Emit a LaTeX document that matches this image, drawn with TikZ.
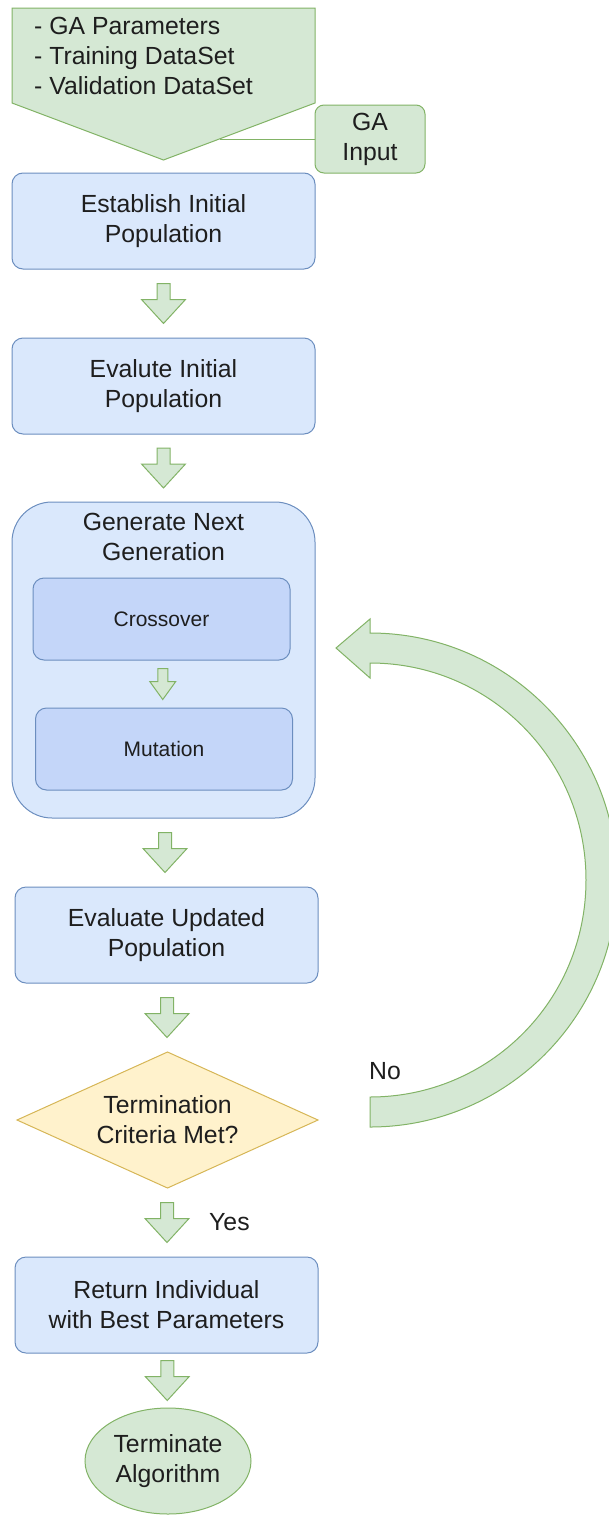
\documentclass[tikz,border=0pt]{standalone}
\usepackage{fontspec}
\setmainfont{Liberation Sans}
\usetikzlibrary{positioning,calc,shapes.geometric}
\definecolor{grfill}{HTML}{D5E8D4}
\definecolor{grline}{HTML}{82B366}
\definecolor{blfill}{HTML}{DAE8FC}
\definecolor{blline}{HTML}{6C8EBF}
\definecolor{bldeep}{HTML}{C4D6F9}
\definecolor{ylfill}{HTML}{FFF2CC}
\definecolor{ylline}{HTML}{D6B656}
\definecolor{ink}{HTML}{1E1E1E}

\begin{document}
\begin{tikzpicture}[x=1pt, y=-1pt,
   font=\fontsize{24.8}{30}\selectfont, text=ink, node distance=69pt,
   stepbox/.style={draw=blline, fill=blfill, line width=1pt, rounded corners=11pt, align=center, inner sep=0pt, outer sep=0pt, minimum width=303pt, minimum height=96pt},
   subbox/.style={stepbox, fill=bldeep, minimum width=257pt, minimum height=82pt, font=\fontsize{21}{25}\selectfont},
   decision/.style={diamond, shape aspect=2.2, draw=ylline, fill=ylfill, line width=1pt, align=center, inner sep=0pt, outer sep=0pt, minimum width=301pt, minimum height=136pt},
   endnode/.style={ellipse, draw=grline, fill=grfill, line width=1pt, align=center, inner sep=0pt, outer sep=0pt, minimum width=166pt, minimum height=106pt},
   inbox/.style={draw=grline, fill=grfill, line width=1pt, rounded corners=9pt, align=center, inner sep=0pt, outer sep=0pt, minimum width=110pt, minimum height=68pt},
   grshape/.style={draw=grline, fill=grfill, line width=1pt},
   bigarr/.pic={\draw[grshape] (-6.5,-20) -- (6.5,-20) -- (6.5,-4) -- (22,-4) -- (0,20) -- (-22,-4) -- (-6.5,-4) -- cycle;},
   tinyarr/.pic={\draw[grshape] (-5,-15.5) -- (5,-15.5) -- (5,-2.5) -- (13,-2.5) -- (0,15.5) -- (-13,-2.5) -- (-5,-2.5) -- cycle;}]
   \useasboundingbox (0,0) rectangle (608,1515);

   % inputs
   \draw[grshape] (12,8) -- (315,8) -- (315,103) coordinate (inR) -- (163.5,160) coordinate (inTip) -- (12,103) -- cycle;
   \node[align=left, anchor=north west, inner sep=0pt] (inputs) at (34,17) {- GA Parameters\\- Training DataSet\\- Validation DataSet};
   \node[inbox] (gain) at (370,139) {GA\\Input};
   \coordinate (tap) at ($(inR)!0.63!(inTip)$);
   \draw[grline, line width=1pt] (gain.west) -- (gain.west -| tap);

   % main flow
   \node[stepbox] (est) at (163.5,221) {Establish Initial\\Population};
   \node[stepbox, below=of est] (evi) {Evalute Initial\\Population};
   \node[stepbox, below=68pt of evi, minimum height=316pt, rounded corners=40pt] (gen) {};
   \node[align=center, inner sep=0pt, anchor=north] (gentitle) at ([yshift=-11pt]gen.north) {Generate Next\\Generation};
   \node[subbox, below=76pt of gen.north, xshift=-2pt] (cross) {Crossover};
   \node[subbox, below=48pt of cross, xshift=2.5pt] (mut) {Mutation};
   \node[stepbox, below=of gen, xshift=3pt] (evu) {Evaluate Updated\\Population};
   \node[decision, below=of evu, xshift=1pt] (crit) {Termination\\Criteria Met?};
   \node[stepbox, below=of crit, xshift=-1pt] (ret) {Return Individual\\with Best Parameters};
   \node[endnode, below=55pt of ret, xshift=1.5pt] (stop) {Terminate\\Algorithm};

   % block arrows
   \pic (a1) at ($(est.south)!0.5!(evi.north)$) {bigarr};
   \pic (a2) at ($(evi.south)!0.5!(gen.north)$) {bigarr};
   \pic (a0) at ($(cross.south)!0.5!(mut.north)$) {tinyarr};
   \pic (a3) at ($(gen.south)!0.5!(evu.north)$) {bigarr};
   \pic (a4) at ($(evu.south)!0.5!(crit.north)$) {bigarr};
   \coordinate (yesmid) at ($(crit.south)!0.5!(ret.north)$);
   \pic (a5) at (yesmid) {bigarr};
   \pic (a6) at ($(ret.south)!0.5!(stop.north)$) {bigarr};
   \node[anchor=west, inner sep=0pt] (yes) at ([xshift=42pt]yesmid) {Yes};

   % loop back
   \draw[grshape] (370,1127) -- (370,1097) .. controls (489.3,1097) and (586,1000.7) .. (586,880)
      .. controls (586,759.3) and (489.3,663) .. (370,663) -- (370,678) -- (336,648) -- (370,619) -- (370,633)
      .. controls (506.4,633) and (617,743.6) .. (617,880) .. controls (617,1016.4) and (506.4,1127) .. (370,1127) -- cycle;
   \node[anchor=west, inner sep=0pt] (no) at (369,1071) {No};
\end{tikzpicture}
\end{document}
